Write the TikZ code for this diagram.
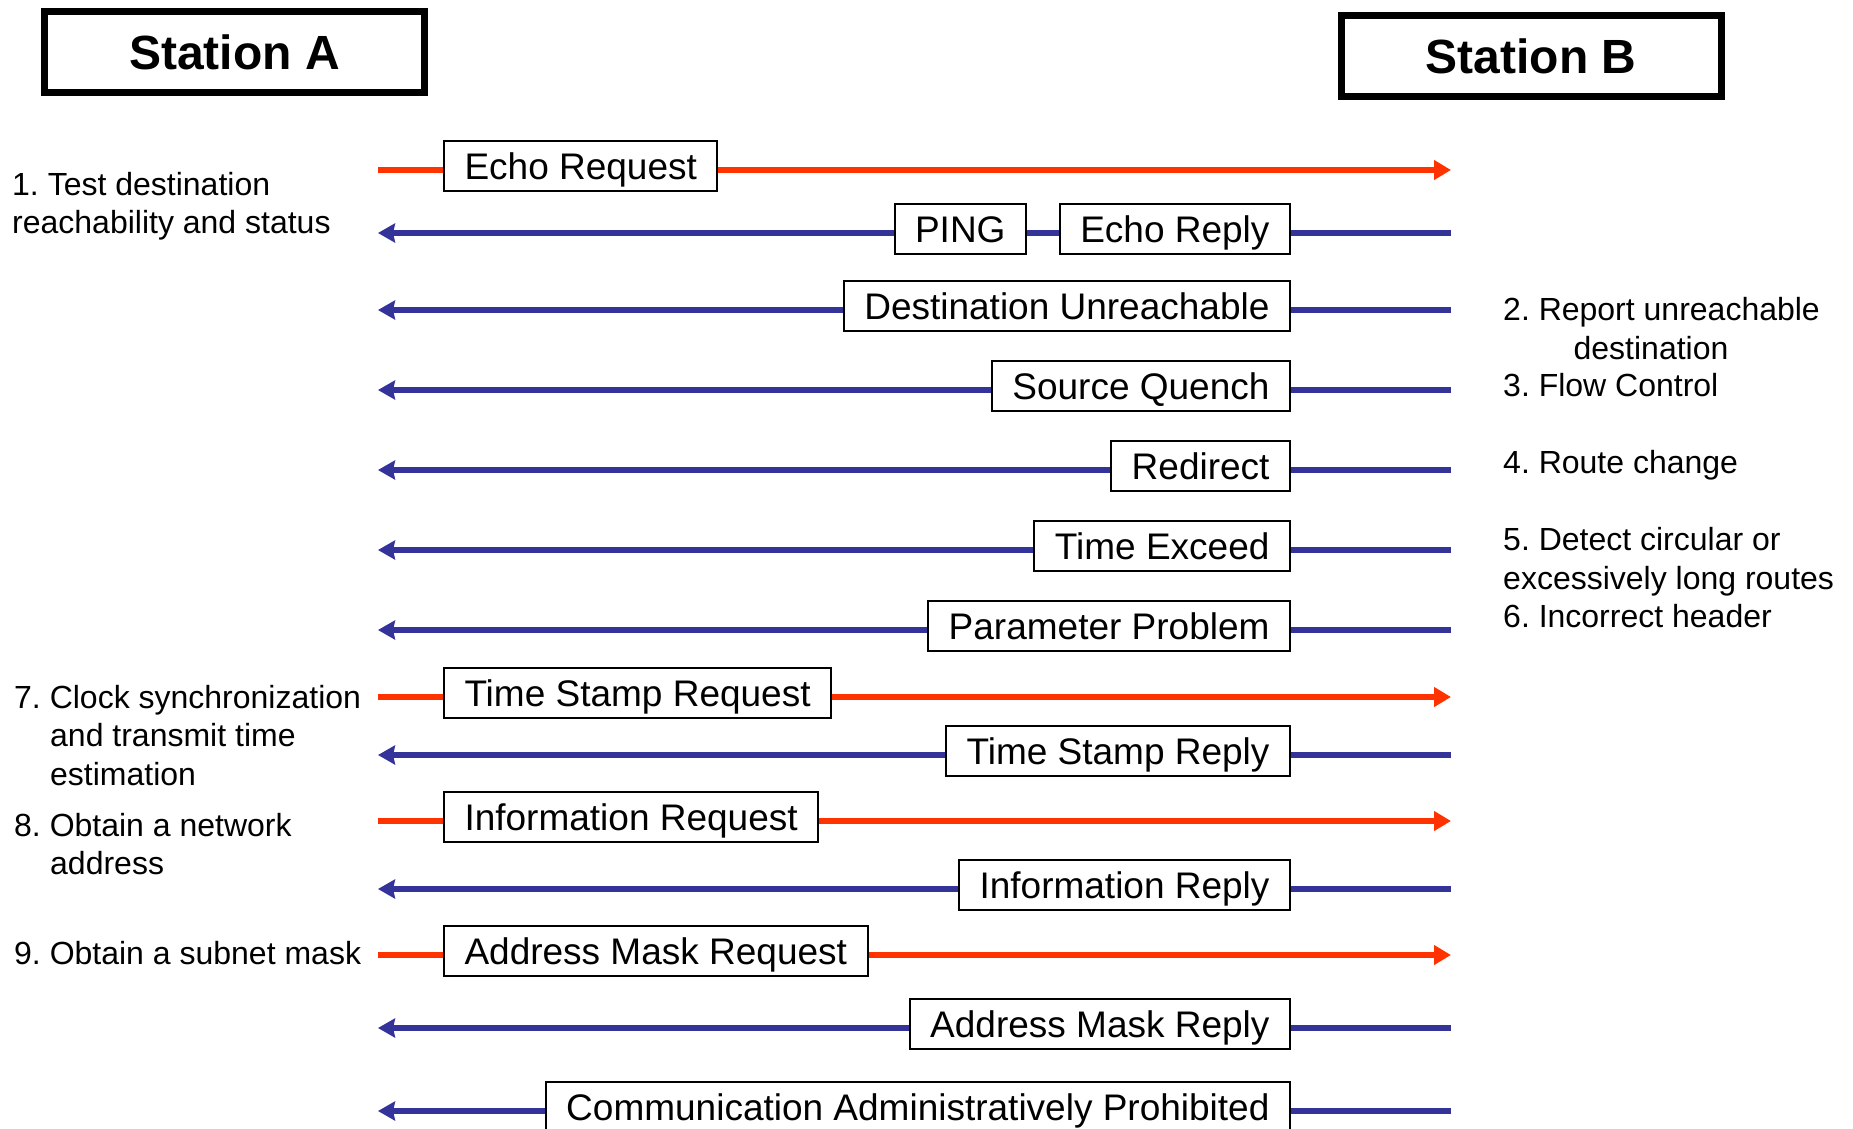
\documentclass[tikz,border=0pt]{standalone}
\usepackage{fontspec}
\setmainfont{Liberation Sans}
\usetikzlibrary{arrows.meta}
\definecolor{reqred}{HTML}{FF3300}
\definecolor{repblue}{HTML}{333399}
\frenchspacing
\begin{document}
\begin{tikzpicture}[x=1pt,y=-1pt,
  msg/.style={draw=black, line width=2pt, fill=white, font=\fontsize{37}{44}\selectfont,
    text height=30.5pt, text depth=4.5pt, inner ysep=7.5pt, inner xsep=20.5pt},
  req/.style={msg, anchor=west},
  rep/.style={msg, anchor=east},
  redln/.style={draw=reqred, line width=6pt},
  blueln/.style={draw=repblue, line width=5.5pt},
  redarr/.style={redln, -{Triangle[length=17pt,width=19pt]}},
  bluearr/.style={blueln, -{Stealth[length=17pt,width=19pt,inset=2pt]}},
  lbl/.style={anchor=base west, inner sep=0pt, font=\fontsize{32}{38}\selectfont},
  lblc/.style={anchor=base, inner sep=0pt, font=\fontsize{32}{38}\selectfont},
  station/.style={draw=black, line width=7pt, font=\fontsize{48}{56}\selectfont\bfseries,
    minimum width=380pt, minimum height=81pt, inner sep=0pt}
]
\useasboundingbox[fill=white] (0,0) rectangle (1853,1128);

% stations
\node[station] (sa) at (234.5,52) {Station A};
\node[station] (sb) at (1531,56) {Station B};

% request rows (red, left to right)
\foreach \n/\y/\t in {1/170/Echo Request, 8/697/Time Stamp Request, 10/821/Information Request, 12/955/Address Mask Request}{
  \coordinate (L\n) at (378,\y);
  \coordinate (R\n) at (1451,\y);
  \node[req] (b\n) at (443,\y-4) {\t};
  \draw[redln] (L\n) -- (L\n -| b\n.west);
  \draw[redarr] (b\n.east |- R\n) -- (R\n);
}

% reply rows (blue, right to left)
\foreach \n/\y/\t in {3/310/Destination Unreachable, 4/390/Source Quench, 5/470/Redirect, 6/550/Time Exceed, 7/630/Parameter Problem, 9/755/Time Stamp Reply, 11/889/Information Reply, 13/1028/Address Mask Reply, 14/1111/Communication Administratively Prohibited}{
  \coordinate (L\n) at (378,\y);
  \coordinate (R\n) at (1451,\y);
  \node[rep] (b\n) at (1291,\y-4) {\t};
  \draw[blueln] (R\n) -- (R\n -| b\n.east);
  \draw[bluearr] (b\n.west |- L\n) -- (L\n);
}

% row 2: PING + Echo Reply
\coordinate (L2) at (378,233);
\coordinate (R2) at (1451,233);
\node[rep] (b2) at (1291,229) {Echo Reply};
\node[rep] (ping) at (1027,229) {PING};
\draw[blueln] (R2) -- (R2 -| b2.east);
\draw[blueln] (b2.west |- R2) -- (ping.east |- R2);
\draw[bluearr] (ping.west |- L2) -- (L2);

% left descriptions
\node[lbl] (t1a) at (12,195) {1. Test destination};
\node[lbl] (t1b) at (12,233) {reachability and status};
\node[lbl] (t7a) at (14,708) {7. Clock synchronization};
\node[lbl] (t7b) at (50,746) {and transmit time};
\node[lbl] (t7c) at (50,785) {estimation};
\node[lbl] (t8a) at (14,836) {8. Obtain a network};
\node[lbl] (t8b) at (50,874) {address};
\node[lbl] (t9a) at (14,964) {9. Obtain a subnet mask};

% right descriptions
\node[lbl] (t2a) at (1503,320) {2. Report unreachable};
\node[lblc] (t2b) at (1651,359) {destination};
\node[lbl] (t3a) at (1503,396) {3. Flow Control};
\node[lbl] (t4a) at (1503,473) {4. Route change};
\node[lbl] (t5a) at (1503,550) {5. Detect circular or};
\node[lbl] (t5b) at (1503,589) {excessively long routes};
\node[lbl] (t6a) at (1503,627) {6. Incorrect header};
\end{tikzpicture}
\end{document}
